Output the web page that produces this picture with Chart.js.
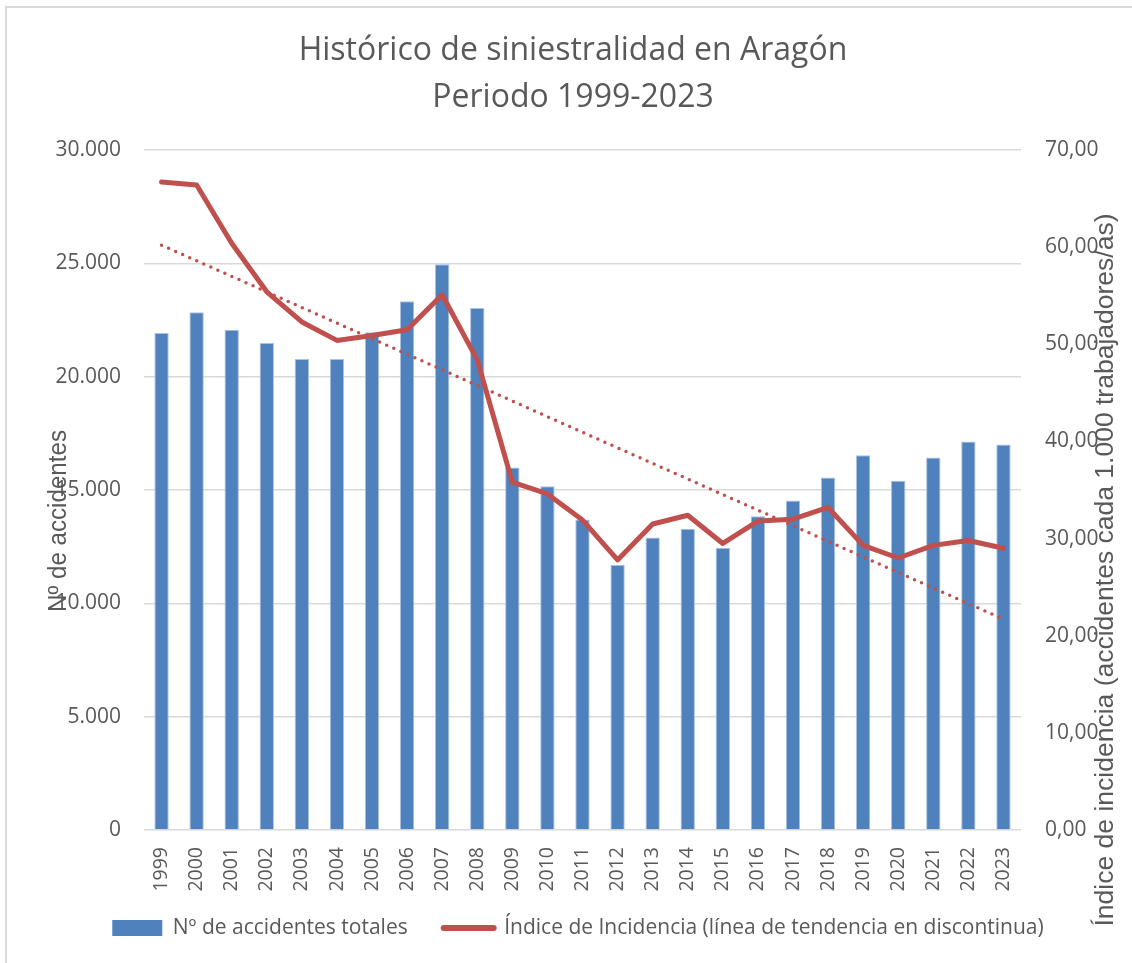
<!DOCTYPE html>
<html>
<head>
<meta charset="utf-8">
<script src="https://cdn.jsdelivr.net/npm/chart.js@4.4.1/dist/chart.umd.min.js"></script>
<style>
  html, body { margin: 0; padding: 0; background: #fff; }
  #wrap { width: 1132px; height: 963px; }
</style>
</head>
<body>
<div id="wrap"><canvas id="chart" width="1132" height="963"></canvas></div>
<script>
// data
const years = ['1999','2000','2001','2002','2003','2004','2005','2006','2007','2008','2009','2010','2011',
  '2012','2013','2014','2015','2016','2017','2018','2019','2020','2021','2022','2023'];
const accidents = [21930, 22840, 22070, 21490, 20780, 20780, 21960, 23330, 24960, 23030, 15990, 15160, 13700,
  11700, 12900, 13290, 12450, 13840, 14540, 15550, 16530, 15410, 16430, 17140, 17010];
const incidence = [66.7, 66.4, 60.4, 55.4, 52.3, 50.4, 50.9, 51.5, 55.1, 48.4, 35.8, 34.6, 31.9,
  27.8, 31.5, 32.4, 29.5, 31.8, 32.0, 33.2, 29.3, 28.0, 29.3, 29.8, 29.0];
// dotted trend line: value at first and last year
const trendStart = 60.2;
const trendEnd = 21.7;

const titleLines = ['Histórico de siniestralidad en Aragón', 'Periodo 1999-2023'];
const leftTitle = 'Nº de accidentes';
const rightTitle = 'Índice de incidencia (accidentes cada 1.000 trabajadores/as)';
const barLabel = 'Nº de accidentes totales';
const lineLabel = 'Índice de Incidencia (línea de tendencia en discontinua)';

const trend = years.map((y, i) => i === 0 ? trendStart : (i === years.length - 1 ? trendEnd : null));

const grey = '#595959';
const blue = '#4F81BD';
const red = '#C0504D';

// draws a rotated, horizontally squeezed text (the original uses a narrow font)
function narrowText(ctx, text, cx, cy, size, width) {
  ctx.save();
  ctx.font = size + 'px "Liberation Sans"';
  const k = width / ctx.measureText(text).width;
  ctx.translate(cx, cy);
  ctx.rotate(-Math.PI / 2);
  ctx.scale(k, 1);
  ctx.fillText(text, 0, 0);
  ctx.restore();
}

// title, axis titles and the outer frame
const decor = {
  id: 'decor',
  afterLayout(chart) {
    // pull the legend row up into the free space under the year labels
    chart.legend.top -= 14.5;
    chart.legend.bottom -= 14.5;
  },
  beforeDraw(chart) {
    const ctx = chart.ctx;
    ctx.save();
    ctx.fillStyle = '#fff';
    ctx.fillRect(0, 0, chart.width, chart.height);
    ctx.strokeStyle = '#d9d9d9';
    ctx.lineWidth = 2;
    ctx.strokeRect(6, 7, chart.width + 20, chart.height + 20);
    ctx.restore();
  },
  afterDraw(chart) {
    const ctx = chart.ctx;
    ctx.save();
    ctx.fillStyle = grey;
    ctx.textAlign = 'center';
    ctx.textBaseline = 'middle';
    ctx.font = '32px "Open Sans"';
    ctx.fillText(titleLines[0], 573, 51);
    ctx.fillText(titleLines[1], 573, 98);
    narrowText(ctx, leftTitle, 59, 521, 26, 182);
    narrowText(ctx, rightTitle, 1106, 570, 26, 713);
    ctx.restore();
  }
};

new Chart(document.getElementById('chart'), {
  type: 'bar',
  data: {
    labels: years,
    datasets: [
      {
        type: 'bar',
        label: barLabel,
        data: accidents,
        yAxisID: 'y',
        backgroundColor: blue,
        borderColor: '#a9c2e3',
        borderWidth: 1,
        barPercentage: 0.41,
        categoryPercentage: 1,
        order: 2
      },
      {
        type: 'line',
        label: lineLabel,
        data: incidence,
        yAxisID: 'y2',
        borderColor: red,
        backgroundColor: red,
        borderWidth: 5,
        borderCapStyle: 'round',
        borderJoinStyle: 'round',
        pointRadius: 0,
        tension: 0,
        order: 0
      },
      {
        type: 'line',
        label: 'tendencia',
        data: trend,
        yAxisID: 'y2',
        spanGaps: true,
        borderColor: red,
        borderWidth: 3.5,
        borderDash: [0, 7.7],
        borderCapStyle: 'round',
        pointRadius: 0,
        order: 1
      }
    ]
  },
  options: {
    responsive: false,
    animation: false,
    layout: { padding: { top: 150, left: 24, right: 0, bottom: 0 } },
    scales: {
      x: {
        grid: { display: false, drawTicks: false },
        border: { display: false },
        ticks: {
          color: grey,
          font: { family: 'Open Sans', size: 19.5 },
          minRotation: 90,
          maxRotation: 90,
          padding: 17,
          autoSkip: false
        },
        afterFit(scale) { scale.height = 66; }
      },
      y: {
        position: 'left',
        min: 0,
        max: 30000,
        ticks: {
          stepSize: 5000,
          color: grey,
          font: { family: 'Open Sans', size: 21 },
          padding: 23,
          callback: v => v.toLocaleString('de-DE')
        },
        grid: { color: '#d9d9d9', lineWidth: 1.5, drawTicks: false },
        border: { display: false },
        afterFit(scale) { scale.width = 120; }
      },
      y2: {
        position: 'right',
        min: 0,
        max: 70,
        ticks: {
          stepSize: 10,
          color: grey,
          font: { family: 'Open Sans', size: 21 },
          padding: 24,
          callback: v => v.toFixed(2).replace('.', ',')
        },
        grid: { drawOnChartArea: false, drawTicks: false },
        border: { display: false },
        afterFit(scale) { scale.width = 111; }
      }
    },
    plugins: {
      tooltip: { enabled: false },
      title: { display: false },
      legend: {
        position: 'bottom',
        labels: {
          usePointStyle: true,
          pointStyleWidth: 50,
          boxHeight: 16,
          padding: 36,
          color: grey,
          font: { family: 'Open Sans', size: 21 },
          filter: item => item.datasetIndex !== 2,
          sort: (a, b) => a.datasetIndex - b.datasetIndex,
          generateLabels(chart) {
            const items = Chart.defaults.plugins.legend.labels.generateLabels(chart);
            items.forEach(item => {
              if (item.datasetIndex === 0) {
                item.pointStyle = 'rect';
                item.lineWidth = 0;
              } else {
                item.pointStyle = 'line';
                item.lineWidth = 6;
                item.lineCap = 'round';
                item.strokeStyle = red;
              }
            });
            return items;
          }
        }
      }
    }
  },
  plugins: [decor]
});
</script>
</body>
</html>
